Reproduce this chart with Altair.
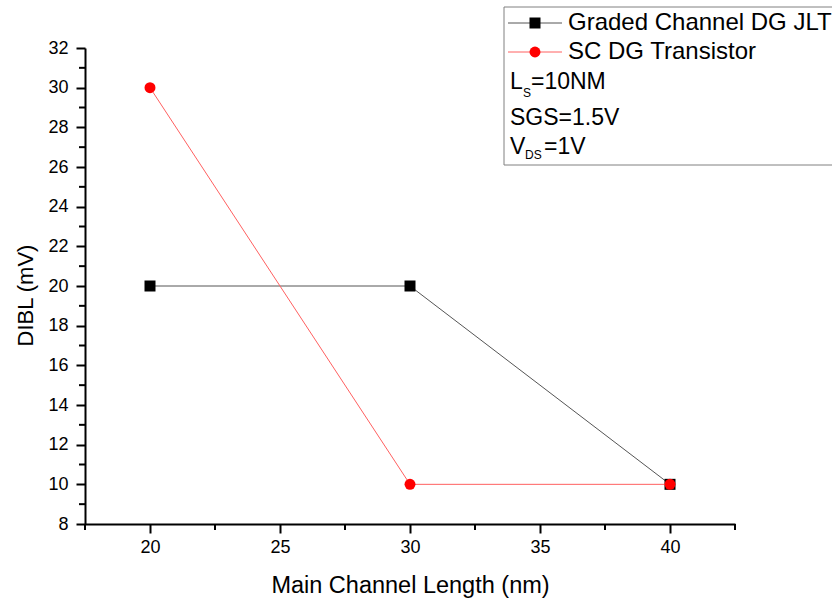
import altair as alt
import pandas as pd

# ---- data ----
channel_length = [20, 30, 40]
graded_dibl = [20, 20, 10]
sc_dibl = [30, 10, 10]
series_names = ["Graded Channel DG JLT", "SC DG Transistor"]
x_major = [20, 25, 30, 35, 40]
x_minor = [17.5, 22.5, 27.5, 32.5, 37.5, 42.5]
y_major = [8, 10, 12, 14, 16, 18, 20, 22, 24, 26, 28, 30, 32]
y_minor = [9, 11, 13, 15, 17, 19, 21, 23, 25, 27, 29, 31]
x_domain = [17.5, 42.5]
y_domain = [8, 32]
x_title = "Main Channel Length (nm)"
y_title = "DIBL (mV)"

FONT = "Liberation Sans"
W, H = 650, 476

graded = pd.DataFrame({"L": channel_length, "DIBL": graded_dibl})
sc = pd.DataFrame({"L": channel_length, "DIBL": sc_dibl})
xminor_df = pd.DataFrame({"Lm": x_minor})
yminor_df = pd.DataFrame({"Dm": y_minor})

xs = alt.Scale(domain=x_domain, nice=False, zero=False)
ys = alt.Scale(domain=y_domain, nice=False, zero=False)

x_axis = alt.Axis(
    values=x_major, tickCount=200, orient="bottom", format="d",
    tickSize=9, tickWidth=2, tickColor="black",
    domainWidth=2, domainColor="black", labelFontSize=18, labelColor="black",
    labelFont=FONT, labelPadding=5, grid=False, labelOverlap=False,
    title=x_title, titleFont=FONT, titleFontSize=23.5,
    titleFontWeight="normal", titleColor="black", titleBaseline="alphabetic",
    titleY=68,
)
y_axis = alt.Axis(
    values=y_major, tickCount=200, orient="left", format="d",
    tickSize=9, tickWidth=2, tickColor="black",
    domainWidth=2, domainColor="black", labelFontSize=18, labelColor="black",
    labelFont=FONT, labelPadding=8, grid=False, labelOverlap=False,
    title=y_title, titleFont=FONT, titleFontSize=22,
    titleFontWeight="normal", titleColor="black", titleBaseline="alphabetic",
    titleX=-53, titleY=247, titleAngle=270, titleAlign="center",
)

black_line = alt.Chart(graded).mark_line(color="#555555", strokeWidth=1).encode(
    x=alt.X("L:Q", scale=xs, axis=x_axis, title=x_title),
    y=alt.Y("DIBL:Q", scale=ys, axis=y_axis, title=y_title),
)
black_pts = alt.Chart(graded).mark_point(shape="square", filled=True, color="black",
                                         size=121, opacity=1).encode(
    x=alt.X("L:Q", scale=xs, title=x_title), y=alt.Y("DIBL:Q", scale=ys, title=y_title))
red_line = alt.Chart(sc).mark_line(color="#ff6060", strokeWidth=1).encode(
    x=alt.X("L:Q", scale=xs, title=x_title), y=alt.Y("DIBL:Q", scale=ys, title=y_title))
red_pts = alt.Chart(sc).mark_point(shape="circle", filled=True, color="#ff0000",
                                   size=120, opacity=1).encode(
    x=alt.X("L:Q", scale=xs, title=x_title), y=alt.Y("DIBL:Q", scale=ys, title=y_title))

# minor ticks (positions from the shared scales)
x_minor_ticks = alt.Chart(xminor_df).mark_rule(color="black", strokeWidth=2, opacity=1).encode(
    x=alt.X("Lm:Q", scale=xs, title=x_title), y=alt.value(H), y2=alt.value(H + 6))
y_minor_ticks = alt.Chart(yminor_df).mark_rule(color="black", strokeWidth=2, opacity=1).encode(
    y=alt.Y("Dm:Q", scale=ys, title=y_title), x=alt.value(-6), x2=alt.value(0))

# ---- legend box (hand-drawn) ----
one = pd.DataFrame({"k": [0]})
box = alt.Chart(one).mark_rect(fill="white", stroke="#808080", strokeWidth=1).encode(
    x=alt.value(419), x2=alt.value(760), y=alt.value(-41), y2=alt.value(117))

leg_line1 = alt.Chart(one).mark_rule(color="#555555", strokeWidth=1).encode(
    x=alt.value(423), x2=alt.value(477), y=alt.value(-25))
leg_pt1 = alt.Chart(one).mark_point(shape="square", filled=True, color="black",
                                    size=121, opacity=1).encode(
    x=alt.value(450), y=alt.value(-25))
leg_line2 = alt.Chart(one).mark_rule(color="#ff6060", strokeWidth=1).encode(
    x=alt.value(423), x2=alt.value(477), y=alt.value(4))
leg_pt2 = alt.Chart(one).mark_point(shape="circle", filled=True, color="#ff0000",
                                    size=120, opacity=1).encode(
    x=alt.value(450), y=alt.value(4))


def txt(label, x, y, size=23):
    return alt.Chart(pd.DataFrame({"t": [label]})).mark_text(
        align="left", baseline="middle", font=FONT, fontSize=size, color="black"
    ).encode(text="t:N", x=alt.value(x), y=alt.value(y))


legend_texts = [
    txt(series_names[0], 483, -25, 24),
    txt(series_names[1], 483, 4, 24),
    txt("L", 425, 34), txt("S", 438, 45, 12), txt("=10NM", 446, 34),
    txt("SGS=1.5V", 425, 70),
    txt("V", 425, 99), txt("DS", 440, 107, 12), txt("=1V", 459, 99),
]

chart = alt.layer(
    black_line, black_pts, red_line, red_pts, x_minor_ticks, y_minor_ticks,
    box, leg_line1, leg_pt1, leg_line2, leg_pt2, *legend_texts,
).properties(
    width=W, height=H,
    autosize=alt.AutoSizeParams(type="none"),
    padding={"left": 85, "top": 48, "right": 97, "bottom": 77},
    background="white",
).configure_view(stroke=None)

chart.save("out.html", embed_options={"renderer": "svg", "actions": False})
